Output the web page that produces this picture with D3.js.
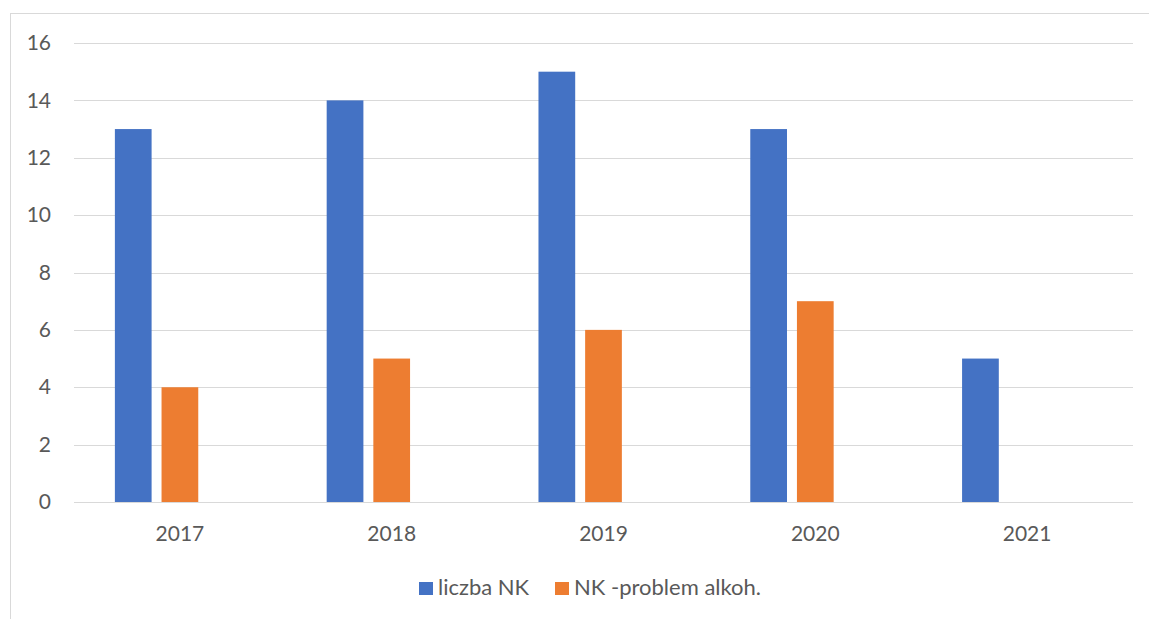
<!DOCTYPE html>
<html>
<head>
<meta charset="utf-8">
<script src="https://cdn.jsdelivr.net/npm/d3@7"></script>
<style>
  body { margin: 0; background: #fff; }
  svg { font-family: Lato, 'Open Sans', sans-serif; }
</style>
</head>
<body>
<div id="chart"></div>
<script>
// data
let years = ['2017', '2018', '2019', '2020', '2021']
let liczbaNK = [13, 14, 15, 13, 5]
let problemAlkoh = [4, 5, 6, 7, null]
let seriesNames = ['liczba NK', 'NK -problem alkoh.']
let seriesColors = ['#4472C4', '#ED7D31']
let yTicks = [0, 2, 4, 6, 8, 10, 12, 14, 16]

let fullWidth = 1149
let fullHeight = 619
let margin = { top: 43, left: 74, right: 16, bottom: 117 }
let width = fullWidth - margin.left - margin.right
let height = fullHeight - margin.top - margin.bottom
let fontSize = 21

let svg = d3
  .select('#chart')
  .append('svg')
  .attr('width', fullWidth)
  .attr('height', fullHeight)

// chart frame
svg
  .append('rect')
  .attr('x', 10.5)
  .attr('y', 13.5)
  .attr('width', 1200)
  .attr('height', 700)
  .attr('fill', 'none')
  .attr('stroke', '#d9d9d9')

let g = svg.append('g').attr('transform', `translate(${margin.left},${margin.top})`)

let x0 = d3
  .scaleBand()
  .domain(years)
  .range([0, width])
  .paddingInner(0.386)
  .paddingOuter(0.193)

// third slot is an empty series in the original workbook
let x1 = d3
  .scaleBand()
  .domain([0, 1, 2])
  .range([0, x0.bandwidth()])
  .paddingInner(0.213)

let y = d3.scaleLinear().domain([0, 16]).range([height, 0])

// gridlines
g.selectAll('.grid')
  .data(yTicks)
  .enter()
  .append('line')
  .attr('class', 'grid')
  .attr('x1', 0)
  .attr('x2', width)
  .attr('y1', d => Math.round(y(d)) + 0.5)
  .attr('y2', d => Math.round(y(d)) + 0.5)
  .attr('stroke', '#d9d9d9')
  .attr('stroke-width', 1)

let yAxis = d3.axisLeft(y).tickValues(yTicks).tickSize(0).tickPadding(23)
g.append('g')
  .attr('class', 'axis y-axis')
  .call(yAxis)
  .call(a => a.select('.domain').remove())
  .selectAll('text')
  .attr('font-size', fontSize)
  .attr('fill', '#595959')
  .attr('font-family', 'Lato, sans-serif')

let xAxis = d3.axisBottom(x0).tickSize(0).tickPadding(24)
g.append('g')
  .attr('class', 'axis x-axis')
  .attr('transform', `translate(0,${height})`)
  .call(xAxis)
  .call(a => a.select('.domain').remove())
  .selectAll('text')
  .attr('font-size', fontSize)
  .attr('fill', '#595959')
  .attr('font-family', 'Lato, sans-serif')

let allSeries = [liczbaNK, problemAlkoh]
allSeries.forEach((values, i) => {
  g.selectAll('.bar-' + i)
    .data(years.map((yr, j) => ({ year: yr, value: values[j] })).filter(d => d.value != null))
    .enter()
    .append('rect')
    .attr('class', 'bar-' + i)
    .attr('x', d => x0(d.year) + x1(i))
    .attr('width', x1.bandwidth())
    .attr('y', d => y(d.value))
    .attr('height', d => height - y(d.value))
    .attr('fill', seriesColors[i])
})

// legend
let legendX = [419, 555]
let legend = svg
  .selectAll('.legend')
  .data(seriesNames)
  .enter()
  .append('g')
  .attr('class', 'legend')
  .attr('transform', (d, i) => `translate(${legendX[i]},582)`)

legend
  .append('rect')
  .attr('width', 14)
  .attr('height', 13)
  .attr('fill', (d, i) => seriesColors[i])

legend
  .append('text')
  .text(d => d)
  .attr('x', 19)
  .attr('y', 13)
  .attr('font-size', 22)
  .attr('fill', '#595959')
</script>
</body>
</html>
